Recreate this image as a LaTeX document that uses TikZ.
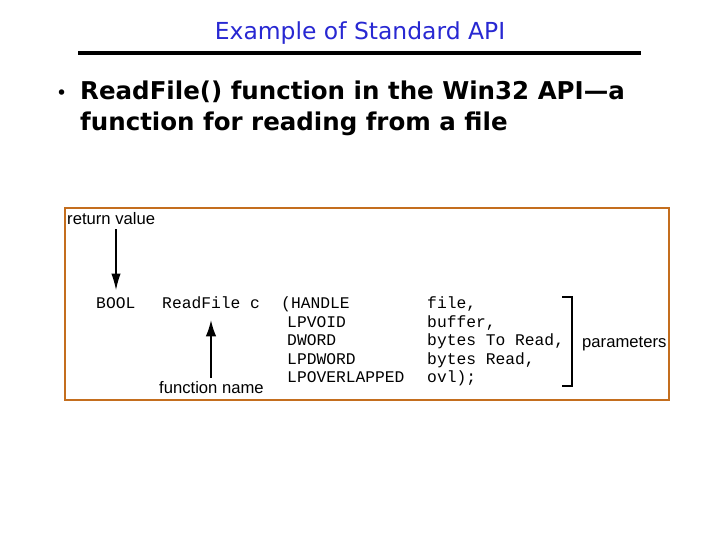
\documentclass[tikz,border=0pt]{standalone}
\usepackage{fontspec}
\setmainfont{DejaVu Sans}
\setsansfont{Liberation Sans}
\setmonofont{Liberation Mono}
\usepackage{xcolor}
\usepackage{tikz}
\usetikzlibrary{arrows.meta}

\definecolor{titleblue}{RGB}{40,40,210}
\definecolor{boxorange}{RGB}{196,110,30}

\begin{document}
\begin{tikzpicture}[x=0.03cm,y=-0.03cm,
    code/.style={font=\ttfamily\fontsize{13.9}{15}\selectfont,anchor=base west,inner sep=0pt},
    lbl/.style={font=\sffamily\fontsize{14.2}{15}\selectfont,anchor=base west,inner sep=0pt},
    bul/.style={font=\bfseries\fontsize{20.9}{22}\selectfont,anchor=base west,inner sep=0pt}]
  \useasboundingbox (0,0) rectangle (720,540);
  \node[titleblue,font=\fontsize{20}{22}\selectfont] (title) at (360,33) {Example of Standard API};
  \draw[line width=3.2pt] (78,53) -- (641,53);
  \node[font=\fontsize{16}{18}\selectfont,anchor=base west,inner sep=0pt] (dot) at (56,100) {•};
  \node[bul] (line1) at (80,100) {ReadFile() function in the Win32 API—a};
  \node[bul] (line2) at (80,131) {function for reading from a file};
  \draw[boxorange,line width=2.4pt] (65,208) rectangle (669,400);
  \node[lbl] (retval) at (67,225) {return value};
  \node[lbl] (fname) at (159,393) {function name};
  \node[lbl] (params) at (582,348) {parameters};
  \node[code] (bool) at (96,309) {BOOL};
  \node[code] (rf) at (162,309) {ReadFile c};
  \node[code] (t1) at (281,309) {(HANDLE};
  \node[code] (t2) at (287,328) {LPVOID};
  \node[code] (t3) at (287,346) {DWORD};
  \node[code] (t4) at (287,365) {LPDWORD};
  \node[code] (t5) at (287,383) {LPOVERLAPPED};
  \node[code] (a1) at (427,309) {file,};
  \node[code] (a2) at (427,328) {buffer,};
  \node[code] (a3) at (427,346) {bytes To Read,};
  \node[code] (a4) at (427,365) {bytes Read,};
  \node[code] (a5) at (427,383) {ovl);};
  % arrows
  \coordinate (rvtip) at (116,290);
  \coordinate (fntip) at (211,320);
  \draw[-{Latex[length=14pt,width=8pt]},line width=0.9pt] (retval.south -| rvtip) ++(0,4) -- (rvtip);
  \draw[-{Latex[length=14pt,width=9pt]},line width=1.4pt] (fname.north -| fntip) ++(0,-3) -- (fntip);
  % bracket
  \draw[line width=1.3pt] (562,297) -- (572,297) -- (572,386) -- (562,386);
\end{tikzpicture}
\end{document}
